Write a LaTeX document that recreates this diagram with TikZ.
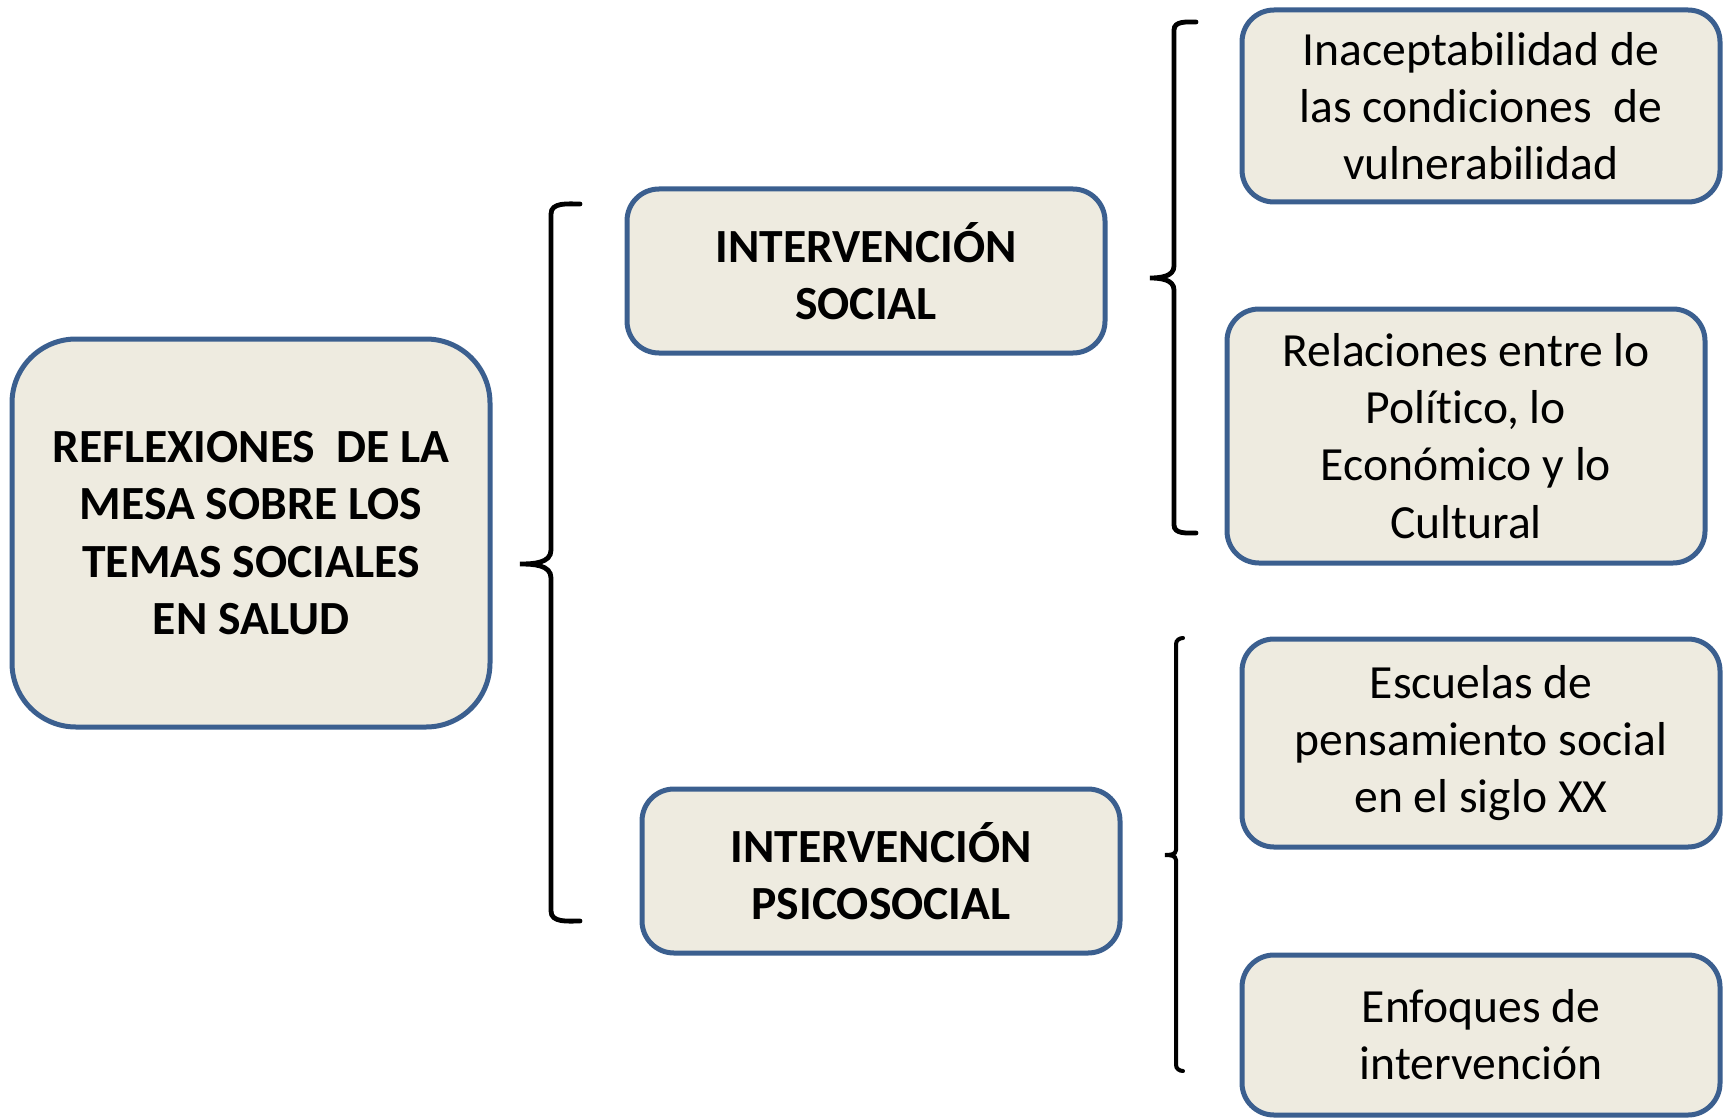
\documentclass[tikz,border=0pt]{standalone}
\usepackage{fontspec}
\setmainfont{Carlito}[Ligatures=NoCommon]
\usepackage{tikz}

\definecolor{boxfill}{HTML}{EEEBE0}
\definecolor{boxline}{HTML}{3B5F8F}

\begin{document}
\begin{tikzpicture}[x=0.5pt, y=-0.5pt,
    every node/.style={font=\fontsize{23.8}{28.6}\selectfont, align=center},
    card/.style={draw=boxline, line width=2.5pt, fill=boxfill, rounded corners=16pt,
                 minimum width=239pt, inner sep=0pt},
    bracket/.style={line width=2.4pt, line cap=round}]
    \useasboundingbox (0,0) rectangle (1727,1118);

    % left side
    \node[card, rounded corners=32pt, minimum height=194pt, font=\bfseries\fontsize{23.8}{28.6}\selectfont] (mesa) at (251,533)
        {REFLEXIONES\ \ DE LA\\ MESA SOBRE LOS\\ TEMAS SOCIALES\\ EN SALUD};

    % middle column
    \node[card, minimum height=82pt, font=\bfseries\fontsize{23.8}{28.6}\selectfont] (social) at (866,271) {INTERVENCIÓN\\ SOCIAL};
    \node[card, minimum height=82pt, font=\bfseries\fontsize{23.8}{28.6}\selectfont] (psico) at (881,871) {INTERVENCIÓN\\ PSICOSOCIAL};

    % right column
    \node[card, minimum height=96pt] (inacep) at (1481,106) {Inaceptabilidad de\\ las condiciones\ \ de\\ vulnerabilidad};
    \node[card, minimum height=127pt] (relac) at (1466,436) {Relaciones entre lo\\ Político, lo\\ Económico y lo\\ Cultural};
    \node[card, minimum height=104pt] (escuelas) at (1481,743) {Escuelas de\\ pensamiento social\\ en el siglo XX};
    \node[card, minimum height=80pt] (enfoques) at (1481,1035) {Enfoques de\\ intervención};

    % braces
    \draw[bracket] (580,204) to[out=180,in=90] (551,214) -- (551,550) to[out=-90,in=0] (520,564)
        to[out=0,in=90] (551,578) -- (551,911) to[out=-90,in=180] (580,921);
    \draw[bracket] (1196,22) to[out=180,in=90] (1174,30) -- (1174,266) to[out=-90,in=0] (1150,278)
        to[out=0,in=90] (1174,290) -- (1174,525) to[out=-90,in=180] (1196,533);
    \draw[bracket, line width=2pt] (1183,638) to[out=180,in=90] (1176,644) -- (1176,850) to[out=-90,in=0] (1165,855)
        to[out=0,in=90] (1176,860) -- (1176,1065) to[out=-90,in=180] (1183,1071);

\end{tikzpicture}
\end{document}
